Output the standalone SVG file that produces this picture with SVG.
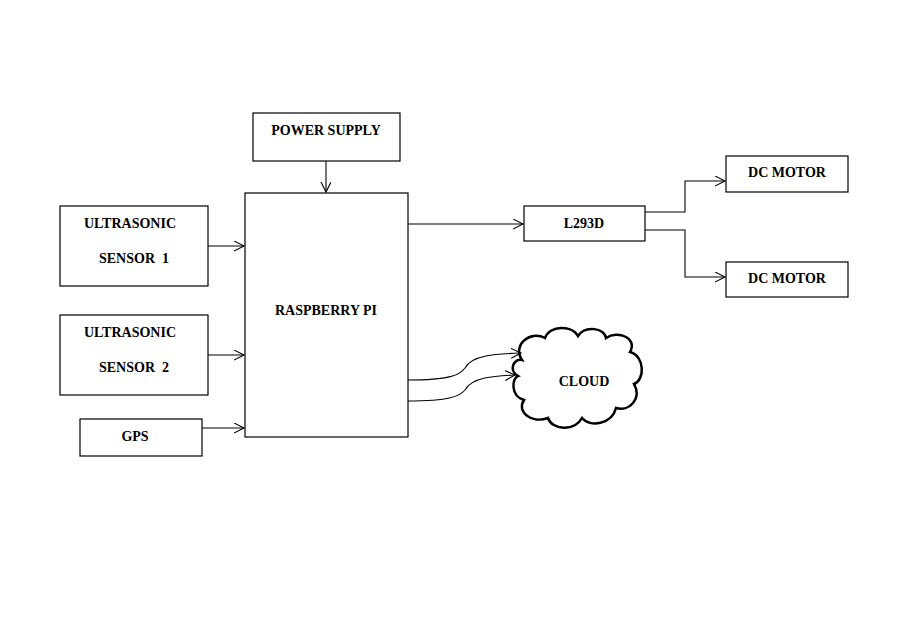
<svg xmlns="http://www.w3.org/2000/svg" width="922" height="634" viewBox="0 0 922 634">
<style>
rect{fill:#fff;stroke:#000;stroke-width:1.2}
text{font-family:"Liberation Serif",serif;font-weight:bold;font-size:14px;fill:#000;text-anchor:middle;white-space:pre}
.c{fill:none;stroke:#000;stroke-width:1.1;marker-end:url(#a)}
</style>
<defs><marker id="a" markerWidth="12" markerHeight="12" refX="10" refY="5" orient="auto" markerUnits="userSpaceOnUse"><path d="M0,0 L10,5 L0,10" fill="none" stroke="#000" stroke-width="1.1"/></marker></defs>
<rect width="922" height="634" style="stroke:none"/>
<g id="power"><rect x="253" y="113" width="147" height="48"/><text x="326" y="135">POWER SUPPLY</text></g>
<g id="rpi"><rect x="245" y="193" width="163" height="244"/><text x="326" y="315">RASPBERRY PI</text></g>
<g id="us1"><rect x="60" y="206" width="148" height="80"/><text x="130" y="228">ULTRASONIC</text><text x="134" y="263">SENSOR&#160;&#160;1</text></g>
<g id="us2"><rect x="60" y="315" width="148" height="80"/><text x="130" y="337">ULTRASONIC</text><text x="134" y="372">SENSOR&#160;&#160;2</text></g>
<g id="gps"><rect x="80" y="419" width="122" height="37"/><text x="135" y="441">GPS</text></g>
<g id="l293d"><rect x="524" y="206" width="121" height="35"/><text x="584" y="228">L293D</text></g>
<g id="m1"><rect x="726" y="156" width="122" height="36"/><text x="787" y="177">DC MOTOR</text></g>
<g id="m2"><rect x="726" y="262" width="122" height="35"/><text x="787" y="283">DC MOTOR</text></g>
<g id="cloud"><path d="M522,360 C512,345 530,330 545,338 C550,325 572,325 578,336 C585,325 605,328 606,338 C618,330 638,338 630,352 C645,356 645,380 634,384 C642,398 630,412 616,408 C612,424 590,428 582,418 C574,432 552,430 548,418 C532,424 516,412 524,400 C510,396 512,378 518,376 C508,370 514,358 522,360 Z" fill="#fff" stroke="#000" stroke-width="2.5"/><text x="584" y="386">CLOUD</text></g>
<g id="connectors">
<path class="c" d="M326,161 V192"/>
<path class="c" d="M208,246 H244"/>
<path class="c" d="M208,355 H244"/>
<path class="c" d="M202,428 H244"/>
<path class="c" d="M408,224 H523"/>
<path class="c" d="M645,212 H685 V181 H725"/>
<path class="c" d="M645,230 H685 V277 H725"/>
<path class="c" d="M408,380 C450,380 460,375 465,368 C472,355 495,354 521,353"/>
<path class="c" d="M408,401 C450,401 460,396 465,390 C472,377 495,376 515,375"/>
</g>
</svg>
